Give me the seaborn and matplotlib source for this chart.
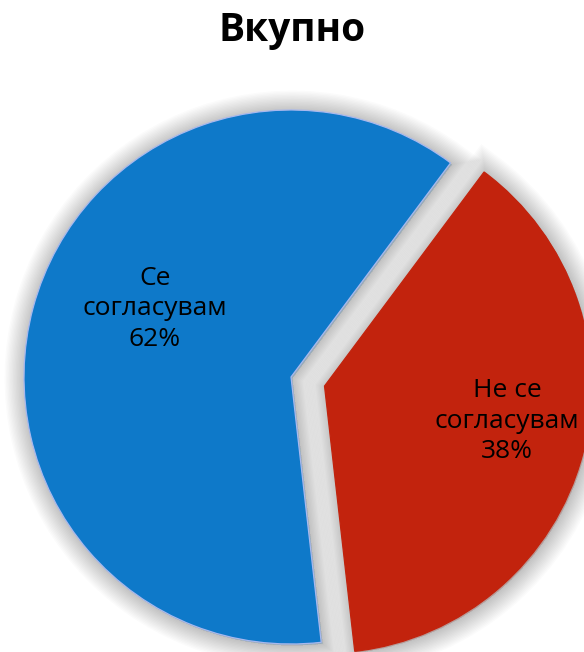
import seaborn as sns
import matplotlib.pyplot as plt
import matplotlib.patheffects as pe

sns.set_theme(style="white")
plt.rcParams['font.family'] = ['Open Sans', 'DejaVu Sans']

categorias = ["Се\nсогласувам", "Не се\nсогласувам"]
procenti = [62, 38]
boi = ['#0E79C9', '#C2230D']
naslov = "Вкупно"

fig = plt.figure(figsize=(5.84, 6.52), dpi=100)
ax = fig.add_axes([0, 0, 1, 1])

# soft blurred shadow around every slice
senka = [pe.Stroke(linewidth=lw, foreground='#000000', alpha=0.015, offset=(1, -1))
         for lw in range(30, 0, -2)] + [pe.Normal()]

wedges, texts = ax.pie(
    procenti,
    labels=[f"{c}\n{p}%" for c, p in zip(categorias, procenti)],
    colors=boi,
    startangle=53.3,
    counterclock=True,
    explode=[0, 0.13],
    labeldistance=0.6,
    wedgeprops=dict(edgecolor='#A8B8EE', linewidth=0.9),
    textprops=dict(fontsize=19, color='black', ha='center', va='center',
                   linespacing=1.3),
)
for w in wedges:
    w.set_path_effects(senka)
wedges[1].set_edgecolor(boi[1])

label_pos = [(-0.51, 0.255), (0.81, -0.165)]
for t, pos in zip(texts, label_pos):
    t.set_position(pos)
    t.set_horizontalalignment('center')

# centre at (291, 377) px from top, radius 267 px
r = 267
ax.set_xlim(-291 / r, (584 - 291) / r)
ax.set_ylim(-(652 - 377) / r, 377 / r)
ax.set_aspect('auto')
ax.axis('off')

fig.text(0.5, 1 - 31 / 652, naslov, ha='center', va='center',
         fontsize=28, fontweight='bold', color='black')

fig.savefig('out.png', dpi=100)
